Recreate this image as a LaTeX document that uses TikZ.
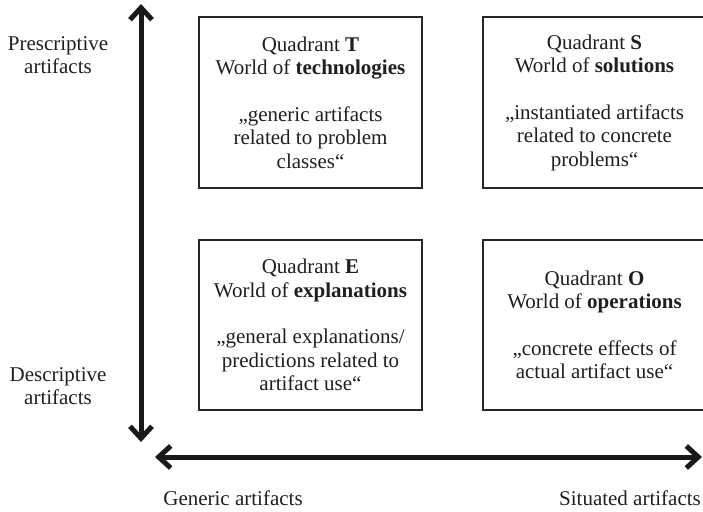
\documentclass[tikz,border=0pt]{standalone}
\usepackage{fontspec}
\setmainfont{Liberation Serif}
\usetikzlibrary{arrows.meta}

\begin{document}
\begin{tikzpicture}[x=1pt,y=-1pt,
  txt/.style={text=black!88, font=\fontsize{21}{23.5}\selectfont, align=center, inner sep=0pt},
  quad/.style={txt, draw=black!85, line width=2pt, minimum width=223pt, minimum height=171pt},
  axis/.style={line width=5pt, black!90, {Straight Barb[length=12pt,width=22pt]}-{Straight Barb[length=12pt,width=22pt]}}
]
  \useasboundingbox (0,0) rectangle (703,511);
  \clip (0,0) rectangle (703,511);

  % quadrants
  \node[quad] (T) at (310.5,102.5) {Quadrant \textbf{T}\\World of \textbf{technologies}\\[23pt]„generic artifacts\\related to problem\\classes“};
  \node[quad] (S) at (594.5,102.5) {Quadrant \textbf{S}\\World of \textbf{solutions}\\[23pt]„instantiated artifacts\\related to concrete\\problems“};
  \node[quad, minimum height=170pt] (E) at (310.5,325) {Quadrant \textbf{E}\\World of \textbf{explanations}\\[23pt]„general explanations/\\predictions related to\\artifact use“};
  \node[quad, minimum height=170pt] (O) at (594.5,325) {Quadrant \textbf{O}\\World of \textbf{operations}\\[23pt]„concrete effects of\\actual artifact use“};

  % axes
  \coordinate (vtop) at (141,4);
  \coordinate (vbot) at (141,442);
  \coordinate (hleft) at (155,457);
  \coordinate (hright) at (702,457);
  \draw[axis] (vbot) -- (vtop);
  \draw[axis] (hleft) -- (hright);

  % axis labels
  \node[txt] (pres) at (58,55) {Prescriptive\\artifacts};
  \node[txt] (desc) at (58,386) {Descriptive\\artifacts};
  \node[txt, anchor=base] (gen) at (233,505) {Generic artifacts};
  \node[txt, anchor=base] (sit) at (630,505) {Situated artifacts};
\end{tikzpicture}
\end{document}
